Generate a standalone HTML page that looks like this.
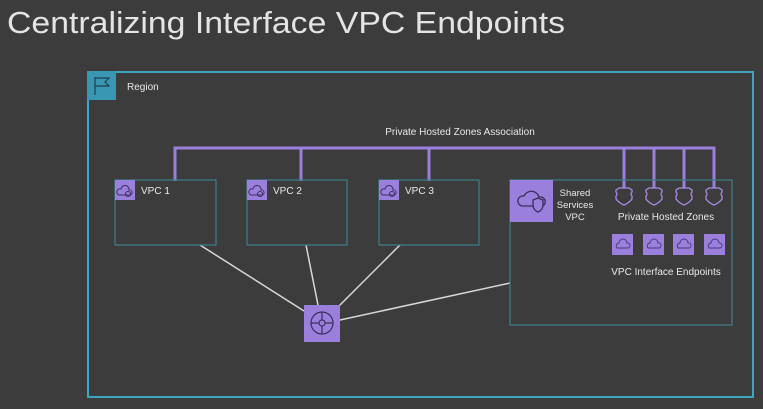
<!DOCTYPE html>
<html><head><meta charset="utf-8"><style>
html,body{margin:0;padding:0;background:#3d3c3d;}
svg{display:block;}
text{font-family:"Liberation Sans",sans-serif;fill:#e8e8e8;}
</style></head><body>
<svg width="763" height="409" viewBox="0 0 763 409" xmlns="http://www.w3.org/2000/svg">
<rect width="763" height="409" fill="#3d3c3d"/>
<text x="7" y="33" font-size="31" textLength="558" lengthAdjust="spacingAndGlyphs" style="fill:#e4e4e4">Centralizing Interface VPC Endpoints</text>
<!-- Region -->
<rect x="88" y="72" width="665" height="325" fill="none" stroke="#3fa4bf" stroke-width="2"/>
<rect x="87" y="71" width="29" height="29" fill="#3a97b3"/>
<g stroke="#1d3f4d" stroke-width="1.2" fill="none"><line x1="95" y1="77" x2="95" y2="95"/><path d="M95 78 L109 78 L105 82 L109 86 L95 86"/></g>
<text x="127" y="90" font-size="10">Region</text>
<!-- white connectors -->
<g stroke="#d8d8d8" stroke-width="1.5">
<line x1="200" y1="245" x2="304" y2="311"/>
<line x1="306" y1="245" x2="318" y2="305"/>
<line x1="400" y1="245" x2="339" y2="306"/>
<line x1="510" y1="283" x2="340" y2="320"/>
</g>
<!-- bus -->
<g stroke="#9b7fdc" stroke-width="3" fill="none">
<polyline points="175,181 175,148 714,148 714,190"/>
<line x1="301" y1="148" x2="301" y2="181"/>
<line x1="429" y1="148" x2="429" y2="181"/>
<line x1="624" y1="148" x2="624" y2="190"/>
<line x1="654" y1="148" x2="654" y2="190"/>
<line x1="684" y1="148" x2="684" y2="190"/>
</g>
<text x="460" y="135" font-size="10" text-anchor="middle">Private Hosted  Zones Association</text>
<!-- VPCs -->
<g stroke="#3e7f8a" stroke-width="1.2" fill="none">
<rect x="115" y="180" width="101" height="65"/>
<rect x="247" y="180" width="100" height="65"/>
<rect x="379" y="180" width="100" height="65"/>
<rect x="510" y="180" width="222" height="145"/>
</g>
<g fill="#9b7fdc">
<rect x="115" y="180" width="20" height="20"/>
<rect x="247" y="180" width="20" height="20"/>
<rect x="379" y="180" width="20" height="20"/>
<rect x="510" y="180" width="43" height="42"/>
</g>
<g stroke="#3b2f5c" stroke-width="1" fill="none">
<path d="M119 195 a3 3 0 0 1 2-6 a4 4 0 0 1 8 1 a2.5 2.5 0 0 1 1 5 z"/><circle cx="128" cy="194" r="2.5"/>
<path d="M251 195 a3 3 0 0 1 2-6 a4 4 0 0 1 8 1 a2.5 2.5 0 0 1 1 5 z"/><circle cx="260" cy="194" r="2.5"/>
<path d="M383 195 a3 3 0 0 1 2-6 a4 4 0 0 1 8 1 a2.5 2.5 0 0 1 1 5 z"/><circle cx="392" cy="194" r="2.5"/>
<path d="M522 206 a5 5 0 0 1 2-10 a8 8 0 0 1 15 1 a5 5 0 0 1 4 9 z" stroke-width="1.3"/>
<path d="M533 200 l5 -2 l5 2 v5 q0 5 -5 7 q-5 -2 -5 -7 z" fill="#9b7fdc" stroke-width="1.3"/>
</g>
<text x="141" y="194" font-size="10">VPC 1</text>
<text x="273" y="194" font-size="10">VPC 2</text>
<text x="405" y="194" font-size="10">VPC 3</text>
<text x="575" y="196" font-size="9.5" text-anchor="middle">Shared</text>
<text x="575" y="208" font-size="9.5" text-anchor="middle">Services</text>
<text x="575" y="220" font-size="9.5" text-anchor="middle">VPC</text>
<!-- shields -->
<g stroke="#a98ae6" stroke-width="1.3" fill="#3d3c3d">
<path d="M616 190 l3 -2 h10 l3 2 v2 q-2 2 0 4 v3 q-3 4 -8 6 q-5 -2 -8 -6 v-3 q2 -2 0 -4 z"/>
<path d="M646 190 l3 -2 h10 l3 2 v2 q-2 2 0 4 v3 q-3 4 -8 6 q-5 -2 -8 -6 v-3 q2 -2 0 -4 z"/>
<path d="M676 190 l3 -2 h10 l3 2 v2 q-2 2 0 4 v3 q-3 4 -8 6 q-5 -2 -8 -6 v-3 q2 -2 0 -4 z"/>
<path d="M706 190 l3 -2 h10 l3 2 v2 q-2 2 0 4 v3 q-3 4 -8 6 q-5 -2 -8 -6 v-3 q2 -2 0 -4 z"/>
</g>
<text x="666" y="220" font-size="10" text-anchor="middle">Private Hosted  Zones</text>
<!-- endpoints -->
<g fill="#9b7fdc">
<rect x="612" y="234" width="21" height="21"/>
<rect x="643" y="234" width="21" height="21"/>
<rect x="673" y="234" width="21" height="21"/>
<rect x="704" y="234" width="21" height="21"/>
</g>
<g stroke="#4a3a78" stroke-width="0.9" fill="none">
<path d="M617 248 a3 3 0 0 1 2-5 a4 4 0 0 1 8 0 a2.5 2.5 0 0 1 1 5 z"/>
<path d="M648 248 a3 3 0 0 1 2-5 a4 4 0 0 1 8 0 a2.5 2.5 0 0 1 1 5 z"/>
<path d="M678 248 a3 3 0 0 1 2-5 a4 4 0 0 1 8 0 a2.5 2.5 0 0 1 1 5 z"/>
<path d="M709 248 a3 3 0 0 1 2-5 a4 4 0 0 1 8 0 a2.5 2.5 0 0 1 1 5 z"/>
</g>
<text x="666" y="275" font-size="10" text-anchor="middle">VPC Interface Endpoints</text>
<!-- router -->
<rect x="304" y="305" width="36" height="37" fill="#9b7fdc"/>
<g stroke="#3b2f5c" stroke-width="1.2" fill="none">
<circle cx="322" cy="323" r="11"/><circle cx="322" cy="323" r="3"/>
<line x1="322" y1="312" x2="322" y2="320"/><line x1="322" y1="326" x2="322" y2="334"/>
<line x1="311" y1="323" x2="319" y2="323"/><line x1="325" y1="323" x2="333" y2="323"/>
</g>
</svg>
</body></html>
